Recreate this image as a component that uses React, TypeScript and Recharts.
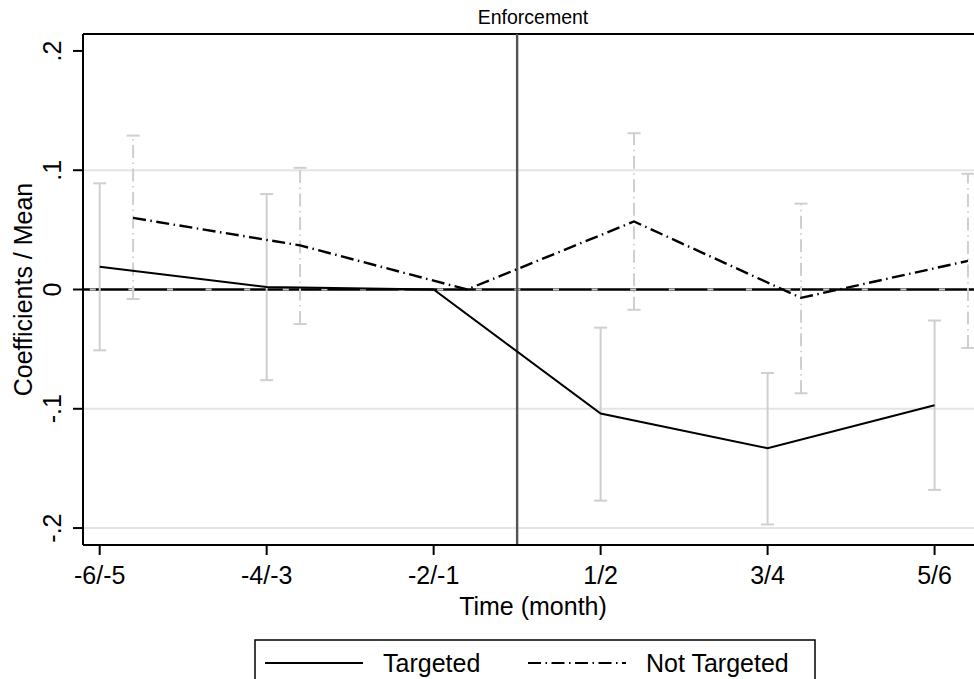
import React from 'react';
import {
  ComposedChart,
  Line,
  Scatter,
  ErrorBar,
  XAxis,
  YAxis,
  ReferenceLine,
  Legend,
} from 'recharts';

// ---------- data ----------
const PERIOD_LABELS = ['-6/-5', '-4/-3', '-2/-1', '1/2', '3/4', '5/6'];
const PERIOD_POS = [1, 2, 3, 4, 5, 6];
const NOT_TARGETED_SHIFT = 0.2;
const SERIES_NAMES = ['Targeted', 'Not Targeted'];

const TARGETED = [0.019, 0.002, 0, -0.104, -0.133, -0.097];
const TARGETED_LO = [-0.051, -0.076, null, -0.177, -0.197, -0.168];
const TARGETED_HI = [0.089, 0.08, null, -0.032, -0.07, -0.026];

const NOT_TARGETED = [0.06, 0.037, 0, 0.057, -0.007, 0.024];
const NOT_TARGETED_LO = [-0.008, -0.029, null, -0.017, -0.087, -0.049];
const NOT_TARGETED_HI = [0.129, 0.102, null, 0.131, 0.072, 0.097];

const Y_TICKS = [-0.2, -0.1, 0, 0.1, 0.2];
const Y_TICK_LABELS = ['-.2', '-.1', '0', '.1', '.2'];
const GRID_VALUES = [0.1, -0.1, -0.2];
const EVENT_POS = 3.5;

// ---------- config ----------
const X_DOMAIN: [number, number] = [0.9, 6.29];
const Y_DOMAIN: [number, number] = [-0.2142, 0.2142];
const FONT = "'Liberation Sans', Arial, Helvetica, sans-serif";
const DASHDOT = '13 4.5 1.5 4.5';
const BAR_GRAY = '#cfcfcf';

const buildSeries = (pos: number[], shift: number, vals: number[], lo: (number | null)[], hi: (number | null)[]) =>
  pos.map((p, i) => ({
    x: p + shift,
    y: vals[i],
    err: lo[i] == null || hi[i] == null ? null : [vals[i] - (lo[i] as number), (hi[i] as number) - vals[i]],
  }));

const targetedData = buildSeries(PERIOD_POS, 0, TARGETED, TARGETED_LO, TARGETED_HI);
const notTargetedData = buildSeries(PERIOD_POS, NOT_TARGETED_SHIFT, NOT_TARGETED, NOT_TARGETED_LO, NOT_TARGETED_HI);

const XTick = (props: any) => {
  const { x, y, payload } = props;
  const idx = PERIOD_POS.indexOf(payload.value);
  return (
    <text x={x} y={y + 27} textAnchor="middle" fontSize={25} fontFamily={FONT} fill="#000">
      {PERIOD_LABELS[idx]}
    </text>
  );
};

const YTick = (props: any) => {
  const { x, y, payload } = props;
  const idx = Y_TICKS.findIndex((t) => Math.abs(t - payload.value) < 1e-9);
  const tx = x - 10;
  return (
    <text
      x={tx}
      y={y}
      transform={`rotate(-90, ${tx}, ${y})`}
      textAnchor="middle"
      fontSize={25}
      fontFamily={FONT}
      fill="#000"
    >
      {Y_TICK_LABELS[idx]}
    </text>
  );
};

const YLabel = (props: any) => {
  const vb = props.viewBox;
  const tx = 32;
  const ty = vb.y + vb.height / 2;
  return (
    <text x={tx} y={ty} transform={`rotate(-90, ${tx}, ${ty})`} textAnchor="middle" fontSize={25} fontFamily={FONT} fill="#000">
      Coefficients / Mean
    </text>
  );
};

const XLabel = (props: any) => {
  const vb = props.viewBox;
  return (
    <text x={vb.x + vb.width / 2} y={vb.y + 70} textAnchor="middle" fontSize={25} fontFamily={FONT} fill="#000">
      Time (month)
    </text>
  );
};

const TitleLabel = (props: any) => {
  const vb = props.viewBox;
  return (
    <text x={vb.x + vb.width / 2} y={vb.y - 10} textAnchor="middle" fontSize={19.5} fontFamily={FONT} fill="#000">
      Enforcement
    </text>
  );
};

const LegendContent = (props: any) => {
  const items = (props.payload || [])
    .filter((p: any) => p.type !== 'none' && SERIES_NAMES.includes(p.value))
    .sort((a: any, b: any) => SERIES_NAMES.indexOf(a.value) - SERIES_NAMES.indexOf(b.value));
  const starts = [11, 274];
  return (
    <svg width={562} height={60} style={{ display: 'block' }}>
      <rect x={1} y={1} width={560} height={80} fill="#fff" stroke="#000" strokeWidth={1.5} />
      {items.map((it: any, i: number) => (
        <g key={i}>
          <line
            x1={starts[i]}
            x2={starts[i] + 98}
            y1={24}
            y2={24}
            stroke="#000"
            strokeWidth={2}
            strokeDasharray={it.payload && it.payload.strokeDasharray}
          />
          <text x={starts[i] + 118} y={33} fontSize={25} fontFamily={FONT} fill="#000">
            {it.value}
          </text>
        </g>
      ))}
    </svg>
  );
};

const Empty = () => <g />;

export default function App() {
  return (
    <div style={{ position: 'absolute', left: 0, top: 0, width: 974, height: 679, overflow: 'hidden', background: '#fff' }}>
      <ComposedChart width={1000} height={700} margin={{ top: 34, right: 17, bottom: 95, left: 0 }}>
        <XAxis
          type="number"
          dataKey="x"
          domain={X_DOMAIN}
          ticks={PERIOD_POS}
          allowDataOverflow
          height={60}
          tickSize={10}
          axisLine={{ stroke: '#000', strokeWidth: 2 }}
          tickLine={{ stroke: '#000', strokeWidth: 2 }}
          tick={<XTick />}
          label={<XLabel />}
        />
        <YAxis
          type="number"
          domain={Y_DOMAIN}
          ticks={Y_TICKS}
          allowDataOverflow
          width={83}
          tickSize={10}
          axisLine={{ stroke: '#000', strokeWidth: 2 }}
          tickLine={{ stroke: '#000', strokeWidth: 2 }}
          tick={<YTick />}
          label={<YLabel />}
        />
        {GRID_VALUES.map((g) => (
          <ReferenceLine key={g} y={g} stroke="#e4e4e4" strokeWidth={2} />
        ))}
        <ReferenceLine y={Y_DOMAIN[1]} stroke="#000" strokeWidth={2} label={<TitleLabel />} />
        <ReferenceLine x={X_DOMAIN[1]} stroke="#000" strokeWidth={2} />
        <ReferenceLine y={0} stroke="#000" strokeWidth={2.6} />
        <ReferenceLine y={0} stroke="#c8c8c8" strokeWidth={2} strokeDasharray="6 32.6" strokeDashoffset={-6.8} />
        <ReferenceLine x={EVENT_POS} stroke="#555" strokeWidth={2.4} />
        <Scatter data={targetedData} dataKey="y" shape={<Empty />} legendType="none" isAnimationActive={false}>
          <ErrorBar dataKey="err" direction="y" width={6.5} stroke={BAR_GRAY} strokeWidth={2} isAnimationActive={false} />
        </Scatter>
        <Scatter data={notTargetedData} dataKey="y" shape={<Empty />} legendType="none" isAnimationActive={false}>
          <ErrorBar
            dataKey="err"
            direction="y"
            width={6.5}
            stroke={BAR_GRAY}
            strokeWidth={2}
            strokeDasharray={DASHDOT}
            isAnimationActive={false}
          />
        </Scatter>
        <Line
          data={targetedData}
          dataKey="y"
          name="Targeted"
          type="linear"
          stroke="#000"
          strokeWidth={2}
          dot={false}
          activeDot={false}
          isAnimationActive={false}
        />
        <Line
          data={notTargetedData}
          dataKey="y"
          name="Not Targeted"
          type="linear"
          stroke="#000"
          strokeWidth={2.4}
          strokeDasharray={DASHDOT}
          dot={false}
          activeDot={false}
          isAnimationActive={false}
        />
        <Legend
          layout="horizontal"
          verticalAlign="middle"
          align="center"
          wrapperStyle={{ top: 639, left: 254, width: 562, height: 60 }}
          content={<LegendContent />}
        />
      </ComposedChart>
    </div>
  );
}
